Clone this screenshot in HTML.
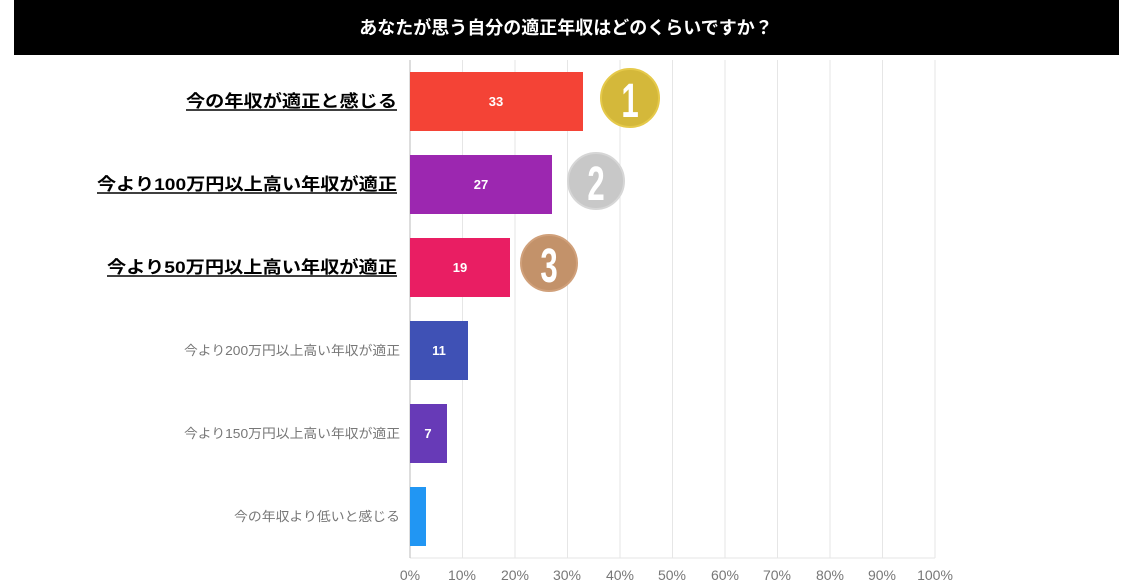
<!DOCTYPE html>
<html><head><meta charset="utf-8"><style>
body{margin:0;background:#fff;width:1137px;height:583px;overflow:hidden;font-family:"Liberation Sans","Noto Sans CJK JP",sans-serif}
</style></head><body>
<svg width="1137" height="583" xmlns="http://www.w3.org/2000/svg" font-family="Liberation Sans, Noto Sans CJK JP, sans-serif">
<rect x="14" y="0" width="1105" height="55" fill="#000"/>
<text x="566" y="34" fill="#fff" font-size="18" font-weight="bold" text-anchor="middle">あなたが思う自分の適正年収はどのくらいですか？</text>
<g stroke="#e6e6e6" stroke-width="1">
<line x1="462.5" y1="60" x2="462.5" y2="558"/><line x1="515" y1="60" x2="515" y2="558"/>
<line x1="567.5" y1="60" x2="567.5" y2="558"/><line x1="620" y1="60" x2="620" y2="558"/>
<line x1="672.5" y1="60" x2="672.5" y2="558"/><line x1="725" y1="60" x2="725" y2="558"/>
<line x1="777.5" y1="60" x2="777.5" y2="558"/><line x1="830" y1="60" x2="830" y2="558"/>
<line x1="882.5" y1="60" x2="882.5" y2="558"/><line x1="935" y1="60" x2="935" y2="558"/>
<line x1="410" y1="558" x2="935" y2="558"/>
</g>
<line x1="410" y1="60" x2="410" y2="558" stroke="#bbb"/>
<rect x="410" y="72" width="173" height="59" fill="#f44336"/>
<rect x="410" y="155" width="142" height="59" fill="#9c27b0"/>
<rect x="410" y="238" width="100" height="59" fill="#e91e63"/>
<rect x="410" y="321" width="58" height="59" fill="#3f51b5"/>
<rect x="410" y="404" width="37" height="59" fill="#673ab7"/>
<rect x="410" y="487" width="16" height="59" fill="#2196f3"/>
<g fill="#fff" font-size="13" font-weight="bold" text-anchor="middle">
<text x="496" y="106">33</text><text x="481" y="189">27</text><text x="460" y="272">19</text>
<text x="439" y="355">11</text><text x="428" y="438">7</text></g>
<g font-size="17" font-weight="bold" fill="#000">
<text x="186" y="107" textLength="211" lengthAdjust="spacingAndGlyphs">今の年収が適正と感じる</text>
<text x="97" y="190" textLength="300" lengthAdjust="spacingAndGlyphs">今より100万円以上高い年収が適正</text>
<text x="107" y="273" textLength="290" lengthAdjust="spacingAndGlyphs">今より50万円以上高い年収が適正</text></g>
<line x1="186" y1="110" x2="397" y2="110" stroke="#000" stroke-width="1.5"/>
<line x1="97" y1="193" x2="397" y2="193" stroke="#000" stroke-width="1.5"/>
<line x1="107" y1="276" x2="397" y2="276" stroke="#000" stroke-width="1.5"/>
<g font-size="13" fill="#777">
<text x="184" y="355" textLength="216" lengthAdjust="spacingAndGlyphs">今より200万円以上高い年収が適正</text>
<text x="184" y="438" textLength="216" lengthAdjust="spacingAndGlyphs">今より150万円以上高い年収が適正</text>
<text x="234" y="521" textLength="166" lengthAdjust="spacingAndGlyphs">今の年収より低いと感じる</text></g>
<g font-size="14" text-anchor="middle" fill="#777">
<text x="410" y="580">0%</text><text x="462" y="580">10%</text><text x="515" y="580">20%</text>
<text x="567" y="580">30%</text><text x="620" y="580">40%</text><text x="672" y="580">50%</text>
<text x="725" y="580">60%</text><text x="777" y="580">70%</text><text x="830" y="580">80%</text>
<text x="882" y="580">90%</text><text x="935" y="580">100%</text></g>
<circle cx="630" cy="98" r="29" fill="#d4b83a" stroke="#e5c94a" stroke-width="2"/>
<text x="630" y="117" fill="#fff" font-size="48" font-weight="bold" text-anchor="middle" transform="translate(630 0) scale(0.65 1) translate(-630 0)">1</text>
<circle cx="596" cy="181" r="28" fill="#c8c8c8" stroke="#d6d6d6" stroke-width="2"/>
<text x="596" y="200" fill="#fff" font-size="48" font-weight="bold" text-anchor="middle" transform="translate(596 0) scale(0.65 1) translate(-596 0)">2</text>
<circle cx="549" cy="263" r="28" fill="#c3926a" stroke="#d0a07a" stroke-width="2"/>
<text x="549" y="282" fill="#fff" font-size="48" font-weight="bold" text-anchor="middle" transform="translate(549 0) scale(0.65 1) translate(-549 0)">3</text>
</svg>
</body></html>
